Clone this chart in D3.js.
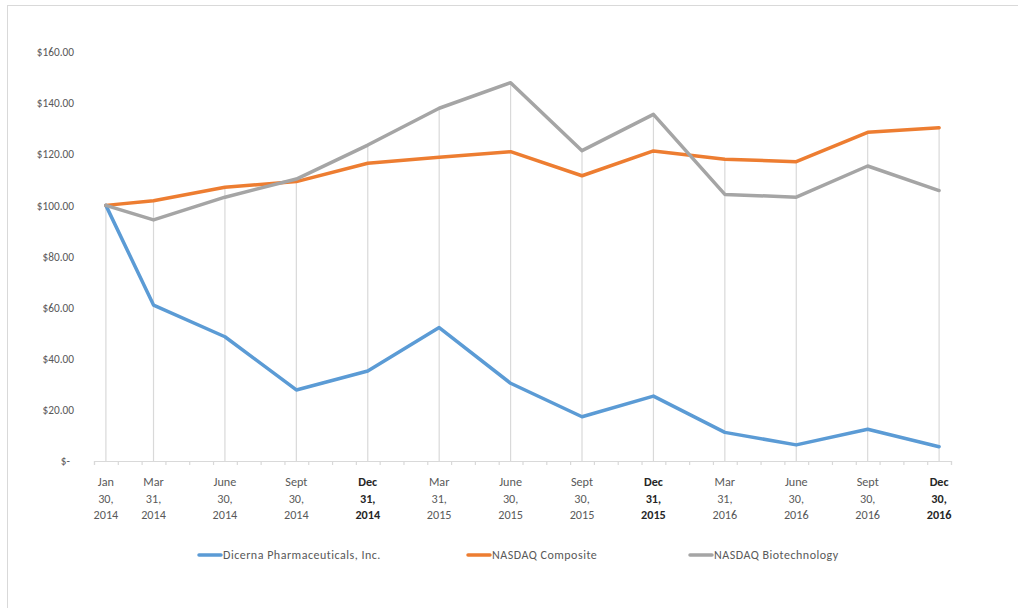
<!DOCTYPE html>
<html><head><meta charset="utf-8">
<script src="https://cdn.jsdelivr.net/npm/d3@7"></script>
<style>
html,body{margin:0;padding:0;background:#fff;}
svg{display:block;font-family:Calibri,Carlito,Lato,"Open Sans",sans-serif;}
</style></head>
<body><svg id="c" width="1018" height="608"></svg>
<script>
// Month index from Jan 2014 (0) to Dec 2016 (35)
const monthIdx = [0, 2, 5, 8, 11, 14, 17, 20, 23, 26, 29, 32, 35];
const dateLabels = [
  ["Jan","30,","2014"],["Mar","31,","2014"],["June","30,","2014"],["Sept","30,","2014"],
  ["Dec","31,","2014"],["Mar","31,","2015"],["June","30,","2015"],["Sept","30,","2015"],
  ["Dec","31,","2015"],["Mar","31,","2016"],["June","30,","2016"],["Sept","30,","2016"],
  ["Dec","30,","2016"]
];
const boldLabels = [false,false,false,false,true,false,false,false,true,false,false,false,true];
const seriesNames = ["Dicerna Pharmaceuticals, Inc.", "NASDAQ Composite", "NASDAQ Biotechnology"];
const dicerna = [100, 61.0, 48.6, 27.8, 35.2, 52.2, 30.4, 17.3, 25.4, 11.2, 6.3, 12.4, 5.6];
const nasdaqComposite = [100, 101.8, 107.1, 109.3, 116.5, 118.8, 121.0, 111.6, 121.3, 118.0, 117.1, 128.6, 130.4];
const nasdaqBiotech = [100, 94.3, 103.2, 110.3, 123.6, 138.0, 148.0, 121.4, 135.6, 104.3, 103.2, 115.4, 105.8];
const seriesColors = ["#5b9bd5", "#ed7d31", "#a5a5a5"];
const yTicks = [0, 20, 40, 60, 80, 100, 120, 140, 160];

const svg = d3.select("#c");
// outer frame
svg.append("rect").attr("x",7.5).attr("y",5.5).attr("width",1030).attr("height",700)
  .attr("fill","#fff").attr("stroke","#d9d9d9").attr("stroke-width",1);

const x = d3.scaleLinear().domain([0, 36]).range([94, 951]);
const y = d3.scaleLinear().domain([0, 160]).range([461, 52]);
const xc = m => x(m + 0.5);

const allSeries = [dicerna, nasdaqComposite, nasdaqBiotech];

// drop lines
const g = svg.append("g");
monthIdx.forEach((m, i) => {
  const top = d3.max(allSeries, s => s[i]);
  g.append("line").attr("x1", xc(m)).attr("x2", xc(m))
    .attr("y1", y(top)).attr("y2", y(0))
    .attr("stroke", "#d9d9d9").attr("stroke-width", 1.2);
});

// x axis line + monthly ticks
const xAxis = d3.axisBottom(x).tickValues(d3.range(0, 37)).tickSize(4).tickFormat("");
const xa = svg.append("g").attr("transform", `translate(0,${y(0)})`).call(xAxis);
xa.selectAll("path").attr("stroke","#d9d9d9").attr("stroke-width",1.2);
xa.selectAll("line").attr("stroke","#d9d9d9").attr("stroke-width",1.2);

// x labels
monthIdx.forEach((m, i) => {
  const t = svg.append("text").attr("x", xc(m)).attr("y", 486)
    .attr("text-anchor","middle").attr("font-size", 12.2)
    .attr("fill", boldLabels[i] ? "#262626" : "#595959")
    .attr("font-weight", boldLabels[i] ? "bold" : "normal");
  dateLabels[i].forEach((s, k) => {
    t.append("tspan").attr("x", xc(m)).attr("dy", k === 0 ? 0 : 16.5).text(s);
  });
});

// y axis labels
const yAxis = d3.axisLeft(y).tickValues(yTicks).tickSize(0)
  .tickFormat(d => d === 0 ? "$-" : "$" + d3.format(".2f")(d));
const ya = svg.append("g").attr("transform", "translate(77,0)").call(yAxis);
ya.select("path").remove();
ya.selectAll("text").attr("fill","#595959").attr("font-size",11.3)
  .attr("font-family","Calibri,Carlito,Lato,'Open Sans',sans-serif").attr("dx", 0);
ya.selectAll("text").filter(d => d === 0).attr("x", -7);

// lines
const line = d3.line().x((d, i) => xc(monthIdx[i])).y(d => y(d));
allSeries.forEach((s, k) => {
  svg.append("path").datum(s).attr("d", line).attr("fill","none")
    .attr("stroke", seriesColors[k]).attr("stroke-width", 3.5)
    .attr("stroke-linejoin","round").attr("stroke-linecap","round");
});

// legend
const legendX = [199, 468, 690];
seriesNames.forEach((n, k) => {
  svg.append("line").attr("x1", legendX[k]).attr("x2", legendX[k] + 22)
    .attr("y1", 555).attr("y2", 555).attr("stroke", seriesColors[k])
    .attr("stroke-width", 3.5).attr("stroke-linecap","round");
  svg.append("text").attr("x", legendX[k] + 24).attr("y", 559)
    .attr("font-size", 12).attr("letter-spacing", 0.5)
    .attr("fill", "#595959").text(n);
});
</script></body></html>
